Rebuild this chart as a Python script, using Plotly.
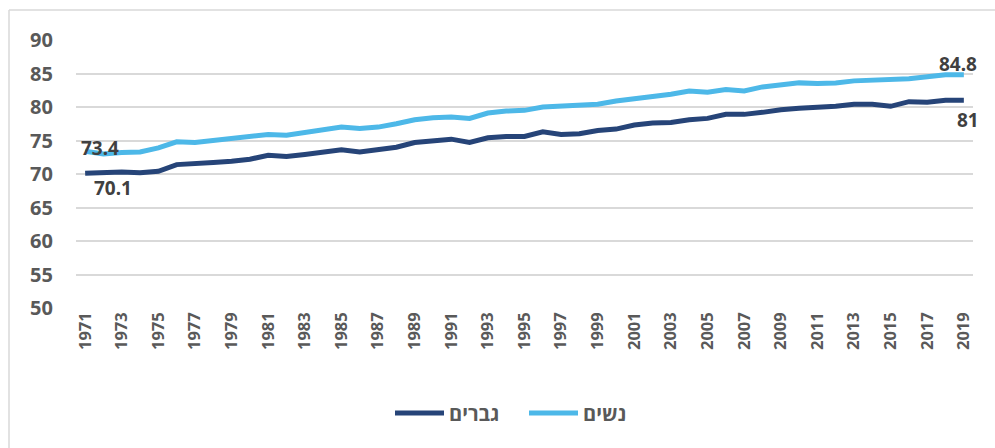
import plotly.graph_objects as go

years = [str(y) for y in range(1971, 2020)]
men = [70.1, 70.2, 70.3, 70.2, 70.4, 71.4, 71.5, 71.7, 71.9, 72.2,
       72.8, 72.6, 72.9, 73.2, 73.6, 73.3, 73.7, 74.0, 74.7, 75.0,
       75.2, 74.7, 75.4, 75.6, 75.6, 76.3, 75.9, 76.0, 76.5, 76.7,
       77.3, 77.6, 77.7, 78.1, 78.3, 78.9, 78.9, 79.2, 79.6, 79.8,
       79.9, 80.1, 80.4, 80.4, 80.1, 80.8, 80.7, 81.0, 81.0]
women = [73.4, 73.0, 73.2, 73.3, 73.9, 74.8, 74.7, 75.0, 75.3, 75.7,
         75.9, 75.8, 76.2, 76.6, 77.0, 76.8, 77.0, 77.5, 78.1, 78.4,
         78.5, 78.3, 79.1, 79.4, 79.5, 80.0, 80.1, 80.3, 80.4, 80.9,
         81.2, 81.5, 81.9, 82.4, 82.2, 82.6, 82.4, 83.0, 83.3, 83.6,
         83.5, 83.6, 83.9, 84.0, 84.1, 84.2, 84.5, 84.8, 84.8]
series_names = ["גברים", "נשים"]
tick_years = years[::2]
y_ticks = [50, 55, 60, 65, 70, 75, 80, 85, 90]
start_labels = ["70.1", "73.4"]
end_labels = ["81", "84.8"]

DARK = "#264478"
LIGHT = "#4DB8E8"
GRAY = "#595959"
FONT = "Noto Sans"
HEB_FONT = "Open Sans, DejaVu Sans"

W, H = 995, 448
L, R, T, B = 76, 22, 40, 140
pw, ph = W - L - R, H - T - B

def px_x(p):
    return (p - L) / pw

def px_y(p):
    return 1 - (p - T) / ph

fig = go.Figure()
fig.add_trace(go.Scatter(x=years, y=men, mode="lines", name=series_names[0],
                         line=dict(color=DARK, width=5), legend="legend"))
fig.add_trace(go.Scatter(x=years, y=women, mode="lines", name=series_names[1],
                         line=dict(color=LIGHT, width=5), legend="legend2"))

first_i, last_i = 0, len(years) - 1
lab_font = dict(family=FONT, size=19, color="#404040", weight="bold")
fig.add_annotation(x=first_i, y=women[first_i], text=start_labels[1], showarrow=False,
                   xshift=15, yshift=3, font=lab_font)
fig.add_annotation(x=first_i, y=men[first_i], text=start_labels[0], showarrow=False,
                   xshift=28, yshift=-15, font=lab_font)
fig.add_annotation(x=last_i, y=women[last_i], text=end_labels[1], showarrow=False,
                   xshift=-6, yshift=11, font=lab_font)
fig.add_annotation(x=last_i, y=men[last_i], text=end_labels[0], showarrow=False,
                   xshift=4, yshift=-20, font=lab_font)

# chart border (left and top)
fig.add_shape(type="line", xref="paper", yref="paper",
              x0=px_x(9), x1=px_x(9), y0=px_y(10), y1=px_y(H + 5),
              line=dict(color="#d9d9d9", width=1.5))
fig.add_shape(type="line", xref="paper", yref="paper",
              x0=px_x(9), x1=px_x(W + 5), y0=px_y(10), y1=px_y(10),
              line=dict(color="#d9d9d9", width=1.5))

leg_common = dict(orientation="h", xanchor="left", y=px_y(413), yanchor="middle",
                  font=dict(family=HEB_FONT, size=20, color=GRAY, weight="bold"),
                  itemwidth=49, bgcolor="rgba(0,0,0,0)")

fig.update_layout(
    width=W, height=H,
    margin=dict(l=L, r=R, t=T, b=B, pad=0, autoexpand=False),
    paper_bgcolor="white", plot_bgcolor="white",
    showlegend=True,
    legend=dict(x=px_x(390), **leg_common),
    legend2=dict(x=px_x(524), **leg_common),
    xaxis=dict(type="category", range=[-0.5, len(years) - 0.5],
               tickmode="array", tickvals=tick_years, automargin=False,
               ticktext=tick_years, tickangle=-90, showgrid=False,
               showline=False, zeroline=False, ticks="",
               tickfont=dict(family=FONT, size=16.5, color=GRAY, weight="bold")),
    yaxis=dict(range=[50, 90], tickmode="array", tickvals=y_ticks,
               showgrid=True, gridcolor="#d9d9d9", gridwidth=1.5,
               zeroline=False, showline=False, ticks="", automargin=False,
               ticklabelstandoff=22,
               tickfont=dict(family=FONT, size=20, color=GRAY, weight="bold")),
)

fig.write_html("out.html", config={"displayModeBar": False},
               post_script="document.body.style.margin='0';document.body.style.overflow='hidden';")
